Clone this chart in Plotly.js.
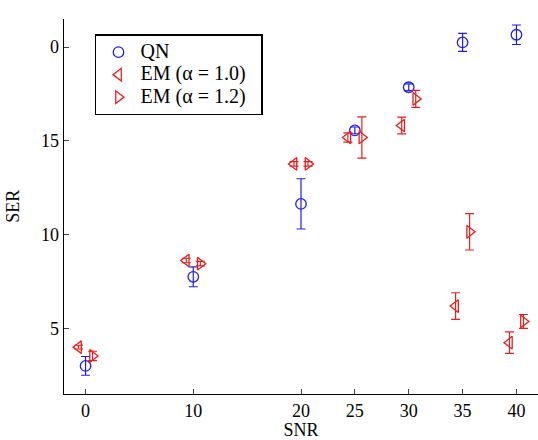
<!DOCTYPE html>
<html>
<head>
<meta charset="utf-8">
<script src="https://cdn.plot.ly/plotly-3.0.1.min.js"></script>
<style>
  html, body { margin: 0; padding: 0; background: #fff; }
  #chart { width: 538px; height: 440px; }
</style>
</head>
<body>
<div id="chart"></div>
<script>
// SNR settings
const snr = [0, 10, 20, 25, 30, 35, 40];

// Symbol error rate, mean and error-bar half-width per method
const qn = [3.0, 7.75, 11.64, 15.56, 17.86, 20.25, 20.66];
const qnErr = [0.5, 0.53, 1.34, 0.18, 0.18, 0.48, 0.52];

const em10 = [4.0, 8.62, 13.77, 15.18, 15.82, 6.19, 4.24];
const em10Err = [0.1, 0.12, 0.12, 0.25, 0.45, 0.71, 0.57];

const em12 = [3.53, 8.45, 13.77, 15.18, 17.24, 10.15, 5.37];
const em12Err = [0.25, 0.12, 0.12, 1.1, 0.45, 0.97, 0.37];

// Series names and axis tick labels
const seriesNames = ['QN', 'EM (α = 1.0)', 'EM (α = 1.2)'];
const xTicks = [0, 10, 20, 25, 30, 35, 40];
const yTickVals = [5, 10, 15, 20];
const yTickText = ['5', '10', '15', '0'];

// Horizontal dodge so the two EM series sit either side of QN
const dodge = 0.65;

const blue = 'rgb(30,30,235)';
const red = 'rgb(235,30,30)';
const serif = '"Liberation Serif", serif';

// Legend rows are spaced from the legend font size; the label text itself is set larger,
// with a little trailing room before the legend border
const legendLabel = name => '<span style="font-size:20px">' + name + '\u00a0\u00a0</span>';

function errBar(arr, color) {
  return { type: 'data', array: arr, visible: true, color: color, thickness: 1.2, width: 4.5 };
}

const traces = [
  {
    name: legendLabel(seriesNames[0]), x: snr, y: qn, mode: 'markers', type: 'scatter',
    marker: { symbol: 'circle-open', size: 10.5, color: blue, line: { width: 1.3, color: blue } },
    error_y: errBar(qnErr, blue)
  },
  {
    name: legendLabel(seriesNames[1]), x: snr.map(s => s - dodge), y: em10, mode: 'markers', type: 'scatter',
    marker: { symbol: 'triangle-left-open', size: 11, color: red, line: { width: 1.3, color: red } },
    error_y: errBar(em10Err, red)
  },
  {
    name: legendLabel(seriesNames[2]), x: snr.map(s => s + dodge), y: em12, mode: 'markers', type: 'scatter',
    marker: { symbol: 'triangle-right-open', size: 11, color: red, line: { width: 1.3, color: red } },
    error_y: errBar(em12Err, red)
  }
];

const layout = {
  width: 538, height: 440,
  margin: { l: 64, r: 0, t: 18.6, b: 46, pad: 0 },
  paper_bgcolor: '#fff', plot_bgcolor: '#fff',
  font: { family: serif, size: 18, color: '#000' },
  showlegend: true,
  legend: {
    x: 0.0654, y: 0.959, xanchor: 'left', yanchor: 'top',
    bgcolor: '#fff', bordercolor: '#000', borderwidth: 1.5,
    font: { family: serif, size: 15, color: '#000' },
    itemwidth: 34
  },
  xaxis: {
    range: [-2, 42], tickvals: xTicks, ticktext: xTicks.map(String),
    ticks: 'inside', ticklen: 5, tickwidth: 1, tickcolor: '#444',
    showline: true, linecolor: '#000', linewidth: 1.3,
    showgrid: false, zeroline: false,
    tickfont: { family: serif, size: 18 },
    title: { text: 'SNR', font: { family: serif, size: 18 }, standoff: 16 }
  },
  yaxis: {
    range: [1.5, 21.5], tickvals: yTickVals, ticktext: yTickText,
    ticks: 'inside', ticklen: 5, tickwidth: 1, tickcolor: '#444',
    showline: true, linecolor: '#000', linewidth: 1.3,
    showgrid: false, zeroline: false,
    tickfont: { family: serif, size: 18 }
  },
  annotations: [
    {
      text: 'SER', xref: 'paper', yref: 'paper', x: -0.109, y: 0.5,
      xanchor: 'center', yanchor: 'middle', textangle: -90, showarrow: false,
      font: { family: serif, size: 18, color: '#000' }
    }
  ]
};

Plotly.newPlot('chart', traces, layout, { displayModeBar: false, staticPlot: true });
</script>
</body>
</html>
